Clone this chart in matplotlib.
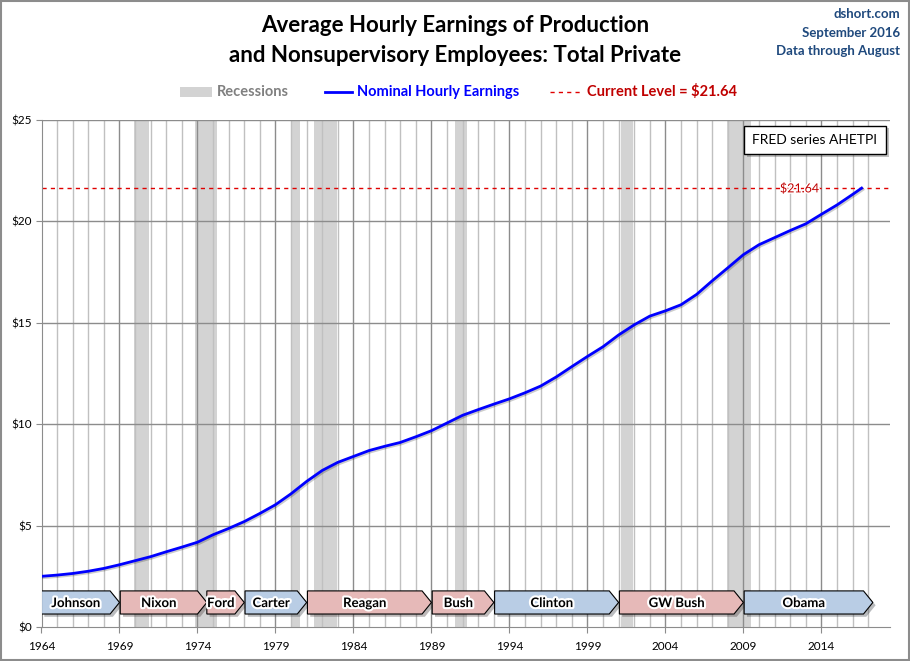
import matplotlib
matplotlib.use("Agg")
import matplotlib.pyplot as plt
import matplotlib.patheffects as pe
from matplotlib.patches import Polygon, Rectangle
from matplotlib.lines import Line2D

plt.rcParams['font.family'] = ['Lato', 'DejaVu Sans']

# Average hourly earnings, production & nonsupervisory (AHETPI), January of each year
years = list(range(1964, 2017)) + [2016.58]
earnings = [2.50, 2.56, 2.64, 2.75, 2.89, 3.07, 3.27, 3.47, 3.71, 3.94,
            4.18, 4.55, 4.86, 5.20, 5.60, 6.03, 6.57, 7.18, 7.72, 8.12,
            8.41, 8.70, 8.91, 9.10, 9.38, 9.68, 10.06, 10.44, 10.72, 10.99,
            11.25, 11.55, 11.88, 12.33, 12.84, 13.34, 13.82, 14.40, 14.90, 15.33,
            15.59, 15.89, 16.40, 17.07, 17.71, 18.36, 18.85, 19.20, 19.55, 19.88,
            20.35, 20.81, 21.33, 21.64]
current_level = 21.64

# NBER recessions (start, end) as decimal years
recessions = [(1969.92, 1970.92), (1973.83, 1975.25), (1980.0, 1980.58),
              (1981.5, 1982.92), (1990.5, 1991.25), (2001.17, 2001.92),
              (2007.92, 2009.5)]

# presidential terms
presidents = ["Johnson", "Nixon", "Ford", "Carter", "Reagan", "Bush",
              "Clinton", "GW Bush", "Obama"]
term_start = [1964.0, 1969.05, 1974.6, 1977.05, 1981.05, 1989.05, 1993.05, 2001.05, 2009.05]
term_end = [1969.0, 1974.6, 1977.0, 1981.0, 1989.0, 1993.0, 2001.0, 2009.0, 2017.3]
party = ["D", "R", "R", "D", "R", "R", "D", "R", "D"]
party_color = {"D": "#b9cde5", "R": "#e6b9b8"}

fig = plt.figure(figsize=(9.1, 6.61), dpi=100)
ax = fig.add_axes([41.5 / 910, 1 - 627 / 661, (890 - 41.5) / 910, (627 - 120) / 661])

for s, e in recessions:
    ax.axvspan(s, e, color="#d3d3d3", lw=0, zorder=0.1)

# yearly grid lines
for yr in range(1965, 2018):
    c = "#8c8c8c" if (yr - 1964) % 5 == 0 else "#c0c0c0"
    ax.axvline(yr, color=c, lw=1, zorder=0.3)
for v in range(5, 30, 5):
    ax.axhline(v, color="#8c8c8c", lw=1, zorder=0.3)

ax.plot(years, earnings, color="#0000ff", lw=2, zorder=3,
        path_effects=[pe.SimpleLineShadow(offset=(1, -1), alpha=0.2), pe.Normal()])

ax.axhline(current_level, color="#e00000", lw=1, ls=(0, (3, 3)), zorder=2.5)
ax.text(2012.6, current_level, "$%.2f" % current_level, color="#c00000", fontsize=9,
        ha="center", va="center", zorder=4,
        path_effects=[pe.withStroke(linewidth=2, foreground="white")])

# president arrows
y0, y1 = 0.64, 1.78
tip = 0.6
for name, s, e, p in zip(presidents, term_start, term_end, party):
    pts = [(s, y0), (e - tip, y0), (e, (y0 + y1) / 2), (e - tip, y1), (s, y1)]
    poly = Polygon(pts, closed=True, facecolor=party_color[p], edgecolor="black", lw=0.8, zorder=5,
                   path_effects=[pe.SimplePatchShadow(offset=(2, -2), alpha=0.35), pe.Normal()])
    ax.add_patch(poly)
    ax.text((s + e - tip) / 2, (y0 + y1) / 2 - 0.03, name, ha="center", va="center",
            fontsize=9.5, fontweight="bold", color="black", zorder=6,
            path_effects=[pe.withStroke(linewidth=3, foreground="white")])

ax.set_xlim(1964, 2018.4)
ax.set_ylim(0, 25)
ax.set_xticks(range(1964, 2018, 5))
ax.set_yticks(range(0, 30, 5))
ax.set_yticklabels(["$%d" % v for v in range(0, 30, 5)])
ax.tick_params(direction="out", length=4, color="#8c8c8c", labelsize=8.5, pad=3)
ax.tick_params(axis="x", pad=6)
for sp in ["top", "right"]:
    ax.spines[sp].set_visible(False)
for sp in ["left", "bottom"]:
    ax.spines[sp].set_color("#8c8c8c")

# FRED note
fig.text(815 / 910, 1 - 140 / 661, "FRED series AHETPI", ha="center", va="center",
         fontsize=10, zorder=7,
         bbox=dict(boxstyle="square,pad=0.6", facecolor="white", edgecolor="black", lw=1,
                   path_effects=[pe.SimplePatchShadow(offset=(2, -2), alpha=0.35), pe.Normal()]))

# titles
fig.text(0.5, 1 - 25 / 661, "Average Hourly Earnings of Production", ha="center", va="center",
         fontsize=16, fontweight="bold")
fig.text(0.5, 1 - 55 / 661, "and Nonsupervisory Employees: Total Private", ha="center", va="center",
         fontsize=16, fontweight="bold")
for txt, yy in [("dshort.com", 14), ("September 2016", 33), ("Data through August", 51)]:
    fig.text(900 / 910, 1 - yy / 661, txt, ha="right", va="center", fontsize=9.5,
             fontweight="bold", color="#1f497d")

# legend
ly = 1 - 92 / 661
fig.patches.append(Rectangle((180 / 910, ly - 5 / 661), 32 / 910, 10 / 661,
                             transform=fig.transFigure, facecolor="#d3d3d3", edgecolor="none"))
fig.text(217 / 910, ly, "Recessions", ha="left", va="center", fontsize=10.5,
         fontweight="bold", color="#808080")
fig.lines.append(Line2D([325 / 910, 352 / 910], [ly, ly], transform=fig.transFigure,
                        color="#0000ff", lw=2))
fig.text(357 / 910, ly, "Nominal Hourly Earnings", ha="left", va="center", fontsize=10.5,
         fontweight="bold", color="#0000ff")
fig.lines.append(Line2D([550 / 910, 581 / 910], [ly, ly], transform=fig.transFigure,
                        color="#e00000", lw=1, ls=(0, (3, 3))))
fig.text(587 / 910, ly, "Current Level = $%.2f" % current_level, ha="left", va="center",
         fontsize=10.5, fontweight="bold", color="#c00000")

# outer frame
fig.patches.append(Rectangle((0.001, 0.001), 0.998, 0.998, transform=fig.transFigure,
                             facecolor="none", edgecolor="#8c8c8c", lw=1.5))

fig.savefig("out.png", dpi=100)
